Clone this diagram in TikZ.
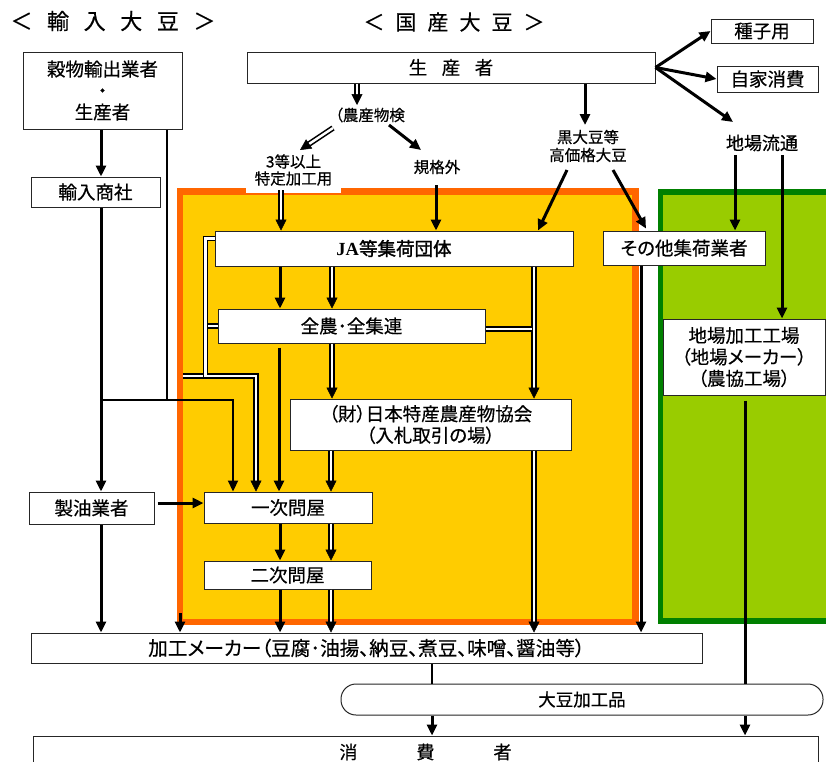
\documentclass[tikz,border=0pt]{standalone}
\usepackage{fontspec}
\setmainfont{Noto Sans CJK JP}[RawFeature=+palt, FakeBold=0.5]
\newfontfamily\jpplain{Noto Sans CJK JP}[FakeBold=0.5]
\newfontfamily\jpbold{Noto Sans CJK JP}[RawFeature=+palt, FakeBold=1.6]
\newfontfamily\serifb{Liberation Serif}
\usetikzlibrary{arrows.meta,calc,decorations.markings}
\definecolor{orgfill}{HTML}{FFCC00}
\definecolor{orgline}{HTML}{FF6600}
\definecolor{grnfill}{HTML}{99CC00}
\definecolor{grnline}{HTML}{008000}
\begin{document}
\begin{tikzpicture}[x=1pt,y=-1pt,
 box/.style={draw=black!85, line width=1pt, fill=white, inner sep=0pt, align=center, font=\fontsize{18.5}{21.5}\selectfont},
 lbl/.style={inner sep=1pt, align=center, font=\fontsize{15.5}{17.5}\selectfont},
 sarr/.style={line width=3pt, -{Triangle[length=11pt,width=10pt]}},
 sline/.style={line width=2.5pt},
 dbl/.style={draw=black, double=white, double distance=2.4pt, line width=1.6pt},
 darr/.style={dbl, shorten >=10pt, postaction={decorate, decoration={markings, mark=at position 1 with {\arrow[line width=0.5pt]{Triangle[length=11pt,width=11pt]}}}}},
]
\useasboundingbox (0,0) rectangle (826,761);
% coloured areas
\draw[fill=orgfill, draw=orgline, line width=6.5pt] (180,191.5) rectangle (635.5,622);
\draw[fill=grnfill, draw=grnline, line width=5.5pt] (660.5,192) rectangle (832,621);

% titles
\node[inner sep=0, font=\jpplain\fontsize{22}{24}\selectfont] (t1) at (113,21) {＜\hspace{14.6pt}輸\hspace{14.6pt}入\hspace{14.6pt}大\hspace{14.6pt}豆\hspace{14.6pt}＞};
\node[inner sep=0, font=\jpplain\fontsize{21}{23}\selectfont] (t2) at (454,22) {＜\hspace{11pt}国\hspace{11pt}産\hspace{11pt}大\hspace{11pt}豆\hspace{11pt}＞};

% boxes
\node[box, minimum width=159pt, minimum height=77pt] (kok) at (102.5,90.5) {穀物輸出業者\\{\jpplain ・}\\生産者};
\node[box, minimum width=129pt, minimum height=30pt] (yun) at (95.5,192) {輸入商社};
\node[box, minimum width=408pt, minimum height=31pt] (sei) at (451,67.5) {生\hspace{14.5pt}産\hspace{14.5pt}者};
\node[box, minimum width=102pt, minimum height=24pt] (shu) at (762,31) {種子用};
\node[box, minimum width=101pt, minimum height=26pt] (jik) at (767.5,79) {自家消費};
\node[lbl, fill=white, inner sep=0pt, minimum width=95pt, minimum height=46pt, font=\fontsize{15.5}{17}\selectfont] (toku) at (293.5,170) {3等以上\\特定加工用};
\node[lbl] (nou) at (370,115) {（農産物検};
\node[lbl] (kik) at (437,167) {規格外};
\node[lbl, font=\fontsize{15.5}{18}\selectfont] (kuro) at (588,146) {黒大豆等\\高価格大豆};
\node[lbl, font=\fontsize{18}{20}\selectfont] (jbr) at (762,143) {地場流通};
\node[box, minimum width=358pt, minimum height=35pt] (JA) at (394,248.5) {{\serifb\bfseries JA}{\jpbold 等集荷団体}};
\node[box, minimum width=267pt, minimum height=34pt] (zen) at (351.5,326) {全農･全集連};
\node[box, minimum width=281pt, minimum height=51pt] (zai) at (430.5,424.5) {（財）日本特産農産物協会\\（入札取引の場）};
\node[box, minimum width=168pt, minimum height=31pt] (ich) at (288,507.5) {一次問屋};
\node[box, minimum width=167pt, minimum height=28pt] (nij) at (287.5,575) {二次問屋};
\node[box, minimum width=125pt, minimum height=32pt] (seiyu) at (91.5,508) {製油業者};
\node[box, minimum width=162pt, minimum height=34pt] (son) at (684,248) {その他集荷業者};
\node[box, minimum width=162pt, minimum height=76pt] (jiba) at (744,357) {地場加工工場\\（地場メーカー）\\（農協工場）};
\node[box, minimum width=671pt, minimum height=30pt, font=\fontsize{19.6}{21}\selectfont] (kako) at (366.5,648) {加工メーカー（豆腐･油揚、納豆、煮豆、味噌、醤油等）};
\node[box, minimum width=482pt, minimum height=31pt, rounded corners=15pt, font=\fontsize{17.5}{20}\selectfont] (daizu) at (582,699.5) {大豆加工品};
\node[box, minimum width=785pt, minimum height=32pt, font=\fontsize{18}{20}\selectfont] (shohi) at (425.5,752) {消\hspace{59pt}費\hspace{59pt}者};

% junction coordinates
\coordinate (jl) at (205.5,376);
\coordinate (jlo) at (183,376);
\coordinate (jr) at (532,329);
\coordinate (obl) at (180,613);
\coordinate (ji) at (167,400);
\coordinate (jh) at (101,400);

% domestic connectors
\draw[darr] ([xshift=-94pt]sei.south) -- ([xshift=-13pt,yshift=10pt]nou.center);
\draw[sarr] ([xshift=134pt]sei.south) -- ([xshift=-3pt,yshift=21pt]kuro.center);
\draw[sarr] (sei.east) -- (shu.west);
\draw[sarr] (sei.east) -- (jik.west);
\draw[sarr] (sei.east) -- ([xshift=-29pt,yshift=21pt]jbr.center);
\draw[darr] ([xshift=-37pt,yshift=-13pt]nou.center) -- ([xshift=6.5pt,yshift=20pt]toku.center);
\draw[sarr] ([xshift=19pt,yshift=-10pt]nou.center) -- ([xshift=-16pt,yshift=17pt]kik.center);
\draw[darr] ([xshift=-12.5pt,yshift=-20pt]toku.center) -- ([xshift=-113pt]JA.north);
\draw[sarr] ([xshift=-1pt,yshift=-18pt]kik.center) -- ([xshift=42pt]JA.north);
\draw[sarr] ([xshift=-21pt,yshift=-24pt]kuro.center) -- ([xshift=144pt]JA.north);
\draw[sarr] ([xshift=25pt,yshift=-24pt]kuro.center) -- ([xshift=-38pt,yshift=2pt]son.north);
\draw[sarr] ([xshift=-27pt,yshift=-12pt]jbr.center) -- ([xshift=51pt]son.north);
\draw[sarr] ([xshift=20pt,yshift=-12pt]jbr.center) -- ([xshift=38pt]jiba.north);

\draw[sarr] ([xshift=-114pt]JA.south) -- ([xshift=-71.5pt]zen.north);
\draw[darr] ([xshift=-62pt]JA.south) -- ([xshift=-19.5pt]zen.north);
\draw[darr] ([xshift=140pt]JA.south) -- ([xshift=103.5pt]zai.north);
\draw[dbl] ([yshift=-3pt]zen.east) -- (jr);
\draw[dbl] (jl) -- (jlo);
\draw[dbl] (zen.west) -- (zen.west -| jl);
\draw[darr] ([yshift=10pt]JA.west) -| (jl) -| ([xshift=-32pt]ich.north);

\draw[sarr] ([xshift=-72.5pt,yshift=-4pt]zen.south) -- ([xshift=-9pt]ich.north);
\draw[darr] ([xshift=-19.5pt]zen.south) -- ([xshift=-98.5pt]zai.north);
\draw[darr] ([xshift=-99.5pt]zai.south) -- ([xshift=43pt]ich.north);
\draw[darr] ([xshift=103.5pt]zai.south) -- ([xshift=167.5pt]kako.north);
\draw[sarr] ([xshift=-8pt]ich.south) -- ([xshift=-7.5pt]nij.north);
\draw[darr] ([xshift=43pt]ich.south) -- ([xshift=43.5pt]nij.north);
\draw[sarr] ([xshift=-7.5pt]nij.south) -- ([xshift=-86.5pt]kako.north);
\draw[darr] ([xshift=43.5pt]nij.south) -- ([xshift=-35.5pt]kako.north);
\draw[sarr] ([xshift=-43pt]son.south) -- ([xshift=274.5pt]kako.north);
\draw[sarr] (obl) -- ([xshift=-186.5pt]kako.north);

% import connectors
\draw[sarr] ([xshift=-1.5pt]kok.south) -- ([xshift=5.5pt]yun.north);
\draw[sarr] ([xshift=5.5pt]yun.south) -- ([xshift=9.5pt]seiyu.north);
\draw[line width=2pt] ([xshift=64.5pt]kok.south) -- (ji);
\draw[line width=2.2pt, -{Triangle[length=11pt,width=10pt]}] (jh) -| ([xshift=-55pt]ich.north);
\draw[sarr] ([xshift=3pt,yshift=5pt]seiyu.east) -- ([yshift=4.5pt]ich.west);
\draw[sarr] ([xshift=9.5pt]seiyu.south) -- ([xshift=-265.5pt]kako.north);

% bottom
\draw[sline] ([xshift=65.5pt]kako.south) -- ([xshift=-150pt]daizu.north);
\draw[sarr] ([xshift=-150pt]daizu.south) -- ([xshift=6.5pt]shohi.north);
\draw[sline, line width=3pt] ([xshift=1pt,yshift=-5pt]jiba.south) -- ([xshift=163pt]daizu.north);
\draw[sarr] ([xshift=163pt]daizu.south) -- ([xshift=319.5pt]shohi.north);
\end{tikzpicture}
\end{document}
